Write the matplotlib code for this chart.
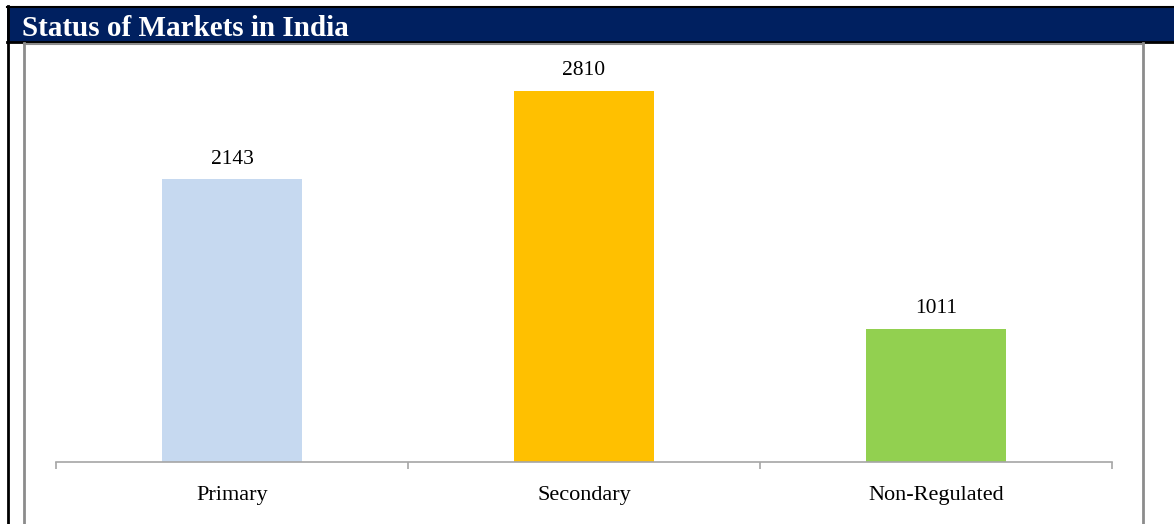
import matplotlib.pyplot as plt
from matplotlib.patches import Rectangle
from matplotlib.lines import Line2D

categories = ['Primary', 'Secondary', 'Non-Regulated']
values = [2143, 2810, 1011]
colors = ['#c6d9f0', '#ffc000', '#92d050']

W, H = 1174, 524
fig = plt.figure(figsize=(W / 100, H / 100), dpi=100)
plt.rcParams['font.family'] = ['Liberation Serif', 'DejaVu Serif']


def fx(x):
    return x / W


def fy(y):
    return 1 - y / H


# title bar
fig.add_artist(Rectangle((fx(7), fy(42)), fx(W - 7), 36 / H, transform=fig.transFigure,
                         facecolor='#002060', edgecolor='none'))
fig.add_artist(Line2D([fx(7), 1], [fy(6.5), fy(6.5)], transform=fig.transFigure, color='black', lw=1.5))
fig.add_artist(Line2D([fx(7), 1], [fy(42), fy(42)], transform=fig.transFigure, color='black', lw=2))
fig.add_artist(Line2D([fx(8), fx(8)], [fy(6), 0], transform=fig.transFigure, color='black', lw=2))
fig.text(fx(22), fy(28), 'Status of Markets in India', color='white', fontsize=21,
         fontweight='bold', va='center', ha='left')

# chart frame (gray)
fig.add_artist(Line2D([fx(24), fx(24)], [fy(43), 0], transform=fig.transFigure, color='#8c8c8c', lw=2))
fig.add_artist(Line2D([fx(24), fx(1143)], [fy(43.5), fy(43.5)], transform=fig.transFigure, color='#8c8c8c', lw=1.5))
fig.add_artist(Line2D([fx(1143), fx(1143)], [fy(43), 0], transform=fig.transFigure, color='#8c8c8c', lw=2))

# plot area: baseline at y=462 px, x from 56 to 1112
ymax = 3200
px_per_unit = (462 - 91) / 2810
top = 462 - ymax * px_per_unit
ax = fig.add_axes([fx(56), fy(462), fx(1112 - 56), (462 - top) / H])
ax.set_xlim(0, 3)
ax.set_ylim(0, ymax)
x = [i + 0.5 for i in range(len(categories))]
ax.bar(x, values, width=0.4, color=colors)
for xi, v in zip(x, values):
    ax.text(xi, v + 80, str(v), ha='center', va='bottom', fontsize=15.5)

for s in ['top', 'right', 'left']:
    ax.spines[s].set_visible(False)
ax.spines['bottom'].set_color('#a6a6a6')
ax.spines['bottom'].set_linewidth(1.2)
ax.set_yticks([])
ax.set_xticks([0, 1, 2, 3])
ax.set_xticklabels([])
ax.set_xticks(x, minor=True)
ax.set_xticklabels(categories, minor=True, fontsize=16)
ax.tick_params(axis='x', which='major', direction='out', length=5, color='#a6a6a6', width=1.2)
ax.tick_params(axis='x', which='minor', length=0, pad=17)

fig.savefig('out.png', dpi=100)
